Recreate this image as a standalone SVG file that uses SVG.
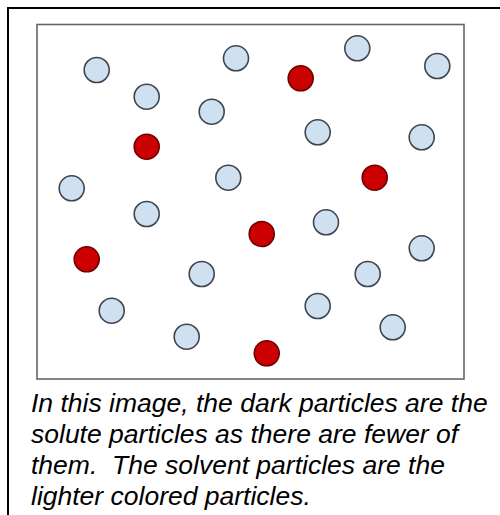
<svg xmlns="http://www.w3.org/2000/svg" width="500" height="515" viewBox="0 0 500 515">
<style>
.frame{fill:none;stroke:#000;stroke-width:2}
.box{fill:#fff;stroke:#666;stroke-width:1.6}
.solvent{fill:#cfe0f1;stroke:#3d4650;stroke-width:1.6}
.solute{fill:#cc0000;stroke:#6e0000;stroke-width:1.6}
.cap{font-family:"Liberation Sans",Arial,sans-serif;font-style:italic;font-size:26.5px;fill:#000;white-space:pre}
</style>
<rect width="500" height="515" fill="#fff"/>
<rect class="frame" x="8" y="8" width="510" height="520"/>
<g id="container">
<rect class="box" x="37" y="24.5" width="427" height="354.5"/>
</g>
<g id="solvent-particles">
<circle class="solvent" cx="96.7" cy="70" r="12.5"/>
<circle class="solvent" cx="146.7" cy="96.7" r="12.5"/>
<circle class="solvent" cx="211.7" cy="111.7" r="12.5"/>
<circle class="solvent" cx="236" cy="58.3" r="12.5"/>
<circle class="solvent" cx="228.3" cy="177.7" r="12.5"/>
<circle class="solvent" cx="71.7" cy="188.3" r="12.5"/>
<circle class="solvent" cx="357.3" cy="48.3" r="12.5"/>
<circle class="solvent" cx="437.3" cy="66" r="12.5"/>
<circle class="solvent" cx="317.7" cy="132.3" r="12.5"/>
<circle class="solvent" cx="421.7" cy="137.3" r="12.5"/>
<circle class="solvent" cx="146.7" cy="214" r="12.5"/>
<circle class="solvent" cx="201.7" cy="274" r="12.5"/>
<circle class="solvent" cx="111.7" cy="310.7" r="12.5"/>
<circle class="solvent" cx="186.7" cy="336.7" r="12.5"/>
<circle class="solvent" cx="326" cy="222.3" r="12.5"/>
<circle class="solvent" cx="421.7" cy="248.3" r="12.5"/>
<circle class="solvent" cx="367.7" cy="274" r="12.5"/>
<circle class="solvent" cx="317.7" cy="306" r="12.5"/>
<circle class="solvent" cx="392.7" cy="327.3" r="12.5"/>
</g>
<g id="solute-particles">
<circle class="solute" cx="146.7" cy="146.7" r="12.5"/>
<circle class="solute" cx="300.7" cy="78.3" r="12.5"/>
<circle class="solute" cx="374.7" cy="177.7" r="12.5"/>
<circle class="solute" cx="86.7" cy="259.3" r="12.5"/>
<circle class="solute" cx="261.7" cy="234" r="12.5"/>
<circle class="solute" cx="266.7" cy="353.3" r="12.5"/>
</g>
<g id="caption">
<text class="cap" x="31" y="411.5">In this image, the dark particles are the</text>
<text class="cap" x="31" y="443">solute particles as there are fewer of</text>
<text class="cap" x="31" y="474" xml:space="preserve">them.  The solvent particles are the</text>
<text class="cap" x="31" y="505">lighter colored particles.</text>
</g>
</svg>
